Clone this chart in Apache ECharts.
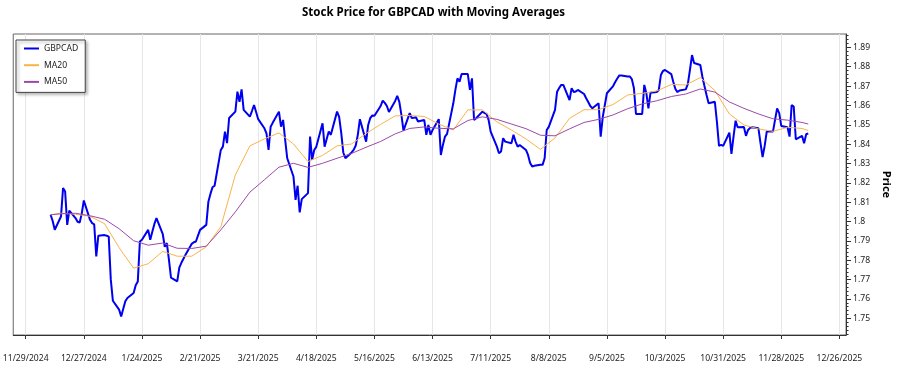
<!DOCTYPE html>
<html>
<head>
<meta charset="utf-8">
<title>Stock Price for GBPCAD with Moving Averages</title>
<script src="https://cdn.jsdelivr.net/npm/echarts@6/dist/echarts.min.js"></script>
<style>
  html, body { margin: 0; padding: 0; background: #fff; }
  #main { width: 900px; height: 375px; }
</style>
</head>
<body>
<div id="main"></div>
<script>
// daily closes, one row per week (Mon..Fri), first row starts on Wednesday
const priceWeeks = [
  '2024-12-09', '2024-12-16', '2024-12-23', '2024-12-30', '2025-01-06', '2025-01-13',
  '2025-01-20', '2025-01-27', '2025-02-03', '2025-02-10', '2025-02-17', '2025-02-24',
  '2025-03-03', '2025-03-10', '2025-03-17', '2025-03-24', '2025-03-31', '2025-04-07',
  '2025-04-14', '2025-04-21', '2025-04-28', '2025-05-05', '2025-05-12', '2025-05-19',
  '2025-05-26', '2025-06-02', '2025-06-09', '2025-06-16', '2025-06-23', '2025-06-30',
  '2025-07-07', '2025-07-14', '2025-07-21', '2025-07-28', '2025-08-04', '2025-08-11',
  '2025-08-18', '2025-08-25', '2025-09-01', '2025-09-08', '2025-09-15', '2025-09-22',
  '2025-09-29', '2025-10-06', '2025-10-13', '2025-10-20', '2025-10-27', '2025-11-03',
  '2025-11-10', '2025-11-17', '2025-11-24', '2025-12-01', '2025-12-08'
];
const gbpcad = [
  [null, null, 1.8035, 1.8003, 1.7958],
  [1.8026, 1.8173, 1.8155, 1.7983, 1.8057],
  [1.8018, 1.7999, 1.7995, 1.8041, 1.8109],
  [1.8009, 1.7992, 1.7986, 1.7820, 1.7927],
  [1.7930, 1.7927, 1.7922, 1.7700, 1.7591],
  [1.7545, 1.7510, 1.7550, 1.7588, 1.7605],
  [1.7631, 1.7671, 1.7690, 1.7897, 1.7906],
  [1.7957, 1.7906, 1.7947, 1.7988, 1.8018],
  [1.7937, 1.7870, 1.7889, 1.7803, 1.7710],
  [1.7691, 1.7762, 1.7787, 1.7808, 1.7829],
  [1.7885, 1.7893, 1.7897, 1.7927, 1.7957],
  [1.7983, 1.8102, 1.8143, 1.8177, 1.8185],
  [1.8370, 1.8387, 1.8465, 1.8405, 1.8535],
  [1.8568, 1.8671, 1.8619, 1.8683, 1.8577],
  [1.8542, 1.8571, 1.8602, 1.8566, 1.8529],
  [1.8482, 1.8456, 1.8370, 1.8490, 1.8510],
  [1.8568, 1.8490, 1.8525, 1.8422, 1.8327],
  [1.8233, 1.8112, 1.8185, 1.8047, 1.8116],
  [1.8147, 1.8439, 1.8319, 1.8370, 1.8386],
  [1.8508, 1.8387, 1.8427, 1.8465, 1.8448],
  [1.8568, 1.8541, 1.8460, 1.8357, 1.8327],
  [1.8357, 1.8370, 1.8393, 1.8448, 1.8529],
  [1.8413, 1.8499, 1.8535, 1.8548, 1.8547],
  [1.8597, 1.8625, 1.8613, 1.8597, 1.8566],
  [1.8623, 1.8649, 1.8618, 1.8551, 1.8470],
  [1.8560, 1.8535, 1.8536, 1.8539, 1.8517],
  [1.8525, 1.8448, 1.8499, 1.8448, 1.8473],
  [1.8529, 1.8344, 1.8396, 1.8439, 1.8453],
  [1.8611, 1.8680, 1.8740, 1.8723, 1.8762],
  [1.8762, 1.8680, 1.8740, 1.8525, 1.8534],
  [1.8568, 1.8561, 1.8556, 1.8525, 1.8465],
  [1.8387, 1.8353, 1.8362, 1.8431, 1.8413],
  [1.8405, 1.8448, 1.8413, 1.8387, 1.8396],
  [1.8370, 1.8344, 1.8303, 1.8284, 1.8288],
  [1.8293, 1.8293, 1.8327, 1.8473, 1.8489],
  [1.8577, 1.8671, 1.8690, 1.8706, 1.8706],
  [1.8628, 1.8689, 1.8669, 1.8672, 1.8680],
  [1.8659, 1.8637, 1.8618, 1.8597, 1.8585],
  [1.8611, 1.8439, 1.8540, 1.8602, 1.8663],
  [1.8700, 1.8721, 1.8739, 1.8755, 1.8755],
  [1.8749, 1.8750, 1.8736, 1.8690, 1.8556],
  [1.8556, 1.8706, 1.8663, 1.8585, 1.8666],
  [1.8669, 1.8680, 1.8757, 1.8778, 1.8783],
  [1.8762, 1.8721, 1.8685, 1.8669, 1.8677],
  [1.8683, 1.8711, 1.8783, 1.8860, 1.8819],
  [1.8809, 1.8748, 1.8700, 1.8654, 1.8611],
  [1.8619, 1.8515, 1.8391, 1.8396, 1.8391],
  [1.8459, 1.8350, 1.8439, 1.8521, 1.8487],
  [1.8489, 1.8443, 1.8473, 1.8484, 1.8487],
  [1.8482, 1.8405, 1.8333, 1.8391, 1.8465],
  [1.8465, 1.8525, 1.8585, 1.8560, 1.8494],
  [1.8487, 1.8439, 1.8602, 1.8594, 1.8425],
  [1.8443, 1.8405, 1.8451, 1.8456]
];

// moving averages read weekly
const maDates = [
  '2024-12-11', '2024-12-16', '2024-12-23', '2024-12-30', '2025-01-06', '2025-01-13',
  '2025-01-20', '2025-01-27', '2025-02-03', '2025-02-10', '2025-02-17', '2025-02-24',
  '2025-03-03', '2025-03-10', '2025-03-17', '2025-03-24', '2025-03-31', '2025-04-07',
  '2025-04-14', '2025-04-21', '2025-04-28', '2025-05-05', '2025-05-12', '2025-05-19',
  '2025-05-26', '2025-06-02', '2025-06-09', '2025-06-16', '2025-06-23', '2025-06-30',
  '2025-07-07', '2025-07-14', '2025-07-21', '2025-07-28', '2025-08-04', '2025-08-11',
  '2025-08-18', '2025-08-25', '2025-09-01', '2025-09-08', '2025-09-15', '2025-09-22',
  '2025-09-29', '2025-10-06', '2025-10-13', '2025-10-20', '2025-10-27', '2025-11-03',
  '2025-11-10', '2025-11-17', '2025-11-24', '2025-12-01', '2025-12-08', '2025-12-11'
];
const ma20 = [
  1.8035, 1.8043, 1.8038, 1.8027, 1.7989, 1.7865, 1.7759, 1.7782, 1.7846, 1.7821,
  1.7821, 1.7870, 1.7973, 1.8241, 1.8391, 1.8427, 1.8458, 1.8401, 1.8310, 1.8342,
  1.8391, 1.8401, 1.8455, 1.8502, 1.8546, 1.8548, 1.8543, 1.8504, 1.8473, 1.8577,
  1.8577, 1.8515, 1.8473, 1.8427, 1.8373, 1.8432, 1.8533, 1.8578, 1.8578, 1.8605,
  1.8654, 1.8662, 1.8675, 1.8708, 1.8706, 1.8744, 1.8677, 1.8556, 1.8499, 1.8479,
  1.8466, 1.8487, 1.8481, 1.8470
];
const ma50 = [
  1.8035, 1.8040, 1.8043, 1.8030, 1.8012, 1.7963, 1.7901, 1.7878, 1.7889, 1.7862,
  1.7861, 1.7873, 1.7957, 1.8050, 1.8152, 1.8216, 1.8281, 1.8301, 1.8280, 1.8301,
  1.8327, 1.8352, 1.8384, 1.8414, 1.8453, 1.8481, 1.8489, 1.8482, 1.8479, 1.8522,
  1.8541, 1.8528, 1.8504, 1.8480, 1.8446, 1.8443, 1.8479, 1.8512, 1.8528, 1.8551,
  1.8583, 1.8608, 1.8624, 1.8646, 1.8659, 1.8685, 1.8669, 1.8618, 1.8585, 1.8556,
  1.8531, 1.8524, 1.8512, 1.8504
];

const xTickDates = [
  '2024-11-29', '2024-12-27', '2025-01-24', '2025-02-21', '2025-03-21', '2025-04-18',
  '2025-05-16', '2025-06-13', '2025-07-11', '2025-08-08', '2025-09-05', '2025-10-03',
  '2025-10-31', '2025-11-28', '2025-12-26'
];
const yTicks = [1.75, 1.76, 1.77, 1.78, 1.79, 1.8, 1.81, 1.82, 1.83, 1.84, 1.85, 1.86, 1.87, 1.88, 1.89];

const FONT = "'Noto Sans', 'DejaVu Sans', sans-serif";

function toTs(s, h) {
  const p = s.split('-').map(Number);
  return new Date(p[0], p[1] - 1, p[2], h || 0).getTime();
}

let pricePts = [];
priceWeeks.forEach((wk, i) => {
  const p = wk.split('-').map(Number);
  gbpcad[i].forEach((v, j) => {
    if (v == null) return;
    pricePts.push([new Date(p[0], p[1] - 1, p[2] + j).getTime(), v]);
  });
});
const ma20Pts = maDates.map((d, i) => [toTs(d), ma20[i]]);
const ma50Pts = maDates.map((d, i) => [toTs(d), ma50[i]]);

const xTicks = xTickDates.map(d => toTs(d));
const yMin = 1.7414, yMax = 1.8969;
let minorTicks = [];
for (let k = 0; k <= 80; k++) {
  const v = 1.742 + k * 0.002;
  if (v <= yMax) minorTicks.push(+v.toFixed(3));
}

let myChart = echarts.init(document.getElementById('main'));
let option = {
  animation: false,
  backgroundColor: '#fff',
  title: {
    text: 'Stock Price for GBPCAD with Moving Averages',
    left: 302,
    top: 7,
    padding: 0,
    textStyle: { fontSize: 11.5, fontWeight: 'bold', color: '#000', fontFamily: FONT }
  },
  legend: {
    orient: 'vertical',
    left: 16,
    top: 40,
    itemWidth: 15,
    itemHeight: 9,
    itemGap: 7.7,
    padding: [4, 7, 6, 7],
    backgroundColor: '#fff',
    borderColor: '#444',
    borderWidth: 1,
    shadowBlur: 3,
    shadowOffsetX: 2,
    shadowOffsetY: 2,
    shadowColor: 'rgba(0,0,0,0.35)',
    // hide the round marker, keep only the line
    itemStyle: { opacity: 0, color: 'rgba(0,0,0,0)', borderWidth: 0 },
    textStyle: { fontSize: 8.6, color: '#222', fontFamily: FONT },
    data: ['GBPCAD', 'MA20', 'MA50']
  },
  grid: {
    left: 11, right: 43, top: 34, bottom: 40,
    show: true, borderColor: '#666', borderWidth: 1
  },
  xAxis: {
    type: 'value',
    min: toTs('2024-11-23'),
    max: toTs('2025-12-29', 5),
    axisLine: { show: true, lineStyle: { color: '#333' } },
    axisTick: { show: true, length: 4, customValues: xTicks, lineStyle: { color: '#333' } },
    axisLabel: {
      customValues: xTicks,
      margin: 19,
      fontSize: 8.6,
      color: '#222',
      fontFamily: FONT,
      hideOverlap: false,
      formatter: function (v) {
        const d = new Date(v);
        return (d.getMonth() + 1) + '/' + d.getDate() + '/' + d.getFullYear();
      }
    },
    splitLine: { show: true, lineStyle: { color: '#e6e6e6', width: 1 } }
  },
  yAxis: [
    {
      type: 'value',
      position: 'right',
      min: yMin,
      max: yMax,
      name: 'Price',
      nameLocation: 'middle',
      nameGap: 30,
      nameRotate: -90,
      nameTextStyle: { fontSize: 11, fontWeight: 'bold', color: '#000', fontFamily: FONT },
      axisLine: { show: true, lineStyle: { color: '#333' } },
      axisTick: { show: true, length: 5, customValues: yTicks, lineStyle: { color: '#333' } },
      axisLabel: {
        customValues: yTicks,
        margin: 7,
        fontSize: 8.6,
        color: '#222',
        fontFamily: FONT,
        formatter: v => String(parseFloat((+v).toFixed(2)))
      },
      splitLine: { show: false }
    },
    {
      type: 'value',
      position: 'right',
      min: yMin,
      max: yMax,
      axisLine: { show: false },
      axisTick: { show: true, length: 2.5, customValues: minorTicks, lineStyle: { color: '#333' } },
      axisLabel: { show: false },
      splitLine: { show: false }
    }
  ],
  series: [
    {
      name: 'GBPCAD',
      type: 'line',
      data: pricePts,
      symbol: 'none',
      lineStyle: { width: 2, color: '#0000f0' },
      itemStyle: { color: '#0000f0' }
    },
    {
      name: 'MA20',
      type: 'line',
      data: ma20Pts,
      symbol: 'none',
      lineStyle: { width: 1, color: '#f8b44a' },
      itemStyle: { color: '#f8b44a' }
    },
    {
      name: 'MA50',
      type: 'line',
      data: ma50Pts,
      symbol: 'none',
      lineStyle: { width: 1, color: '#9c4aa8' },
      itemStyle: { color: '#9c4aa8' }
    }
  ]
};
myChart.setOption(option);
</script>
</body>
</html>
